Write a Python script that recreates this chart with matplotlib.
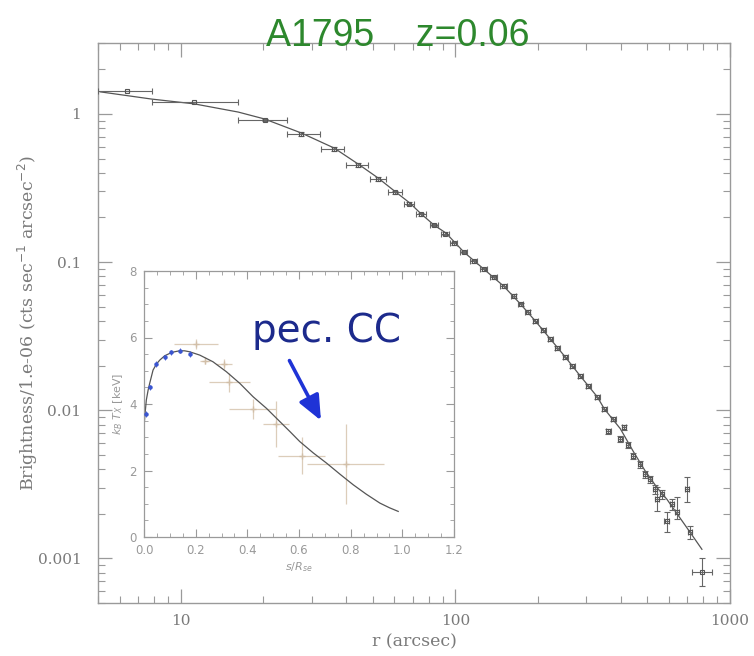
"""
A1795 brightness profile with temperature inset
"""

import matplotlib.pyplot as plt
from matplotlib.ticker import LogLocator, NullFormatter, FixedLocator, AutoMinorLocator

# main panel: brightness data points
r_pts = [6.37, 11.2, 20.2, 27.5, 36.2, 44.3, 52.3, 60.3, 67.8, 75.0, 83.6, 91.6,
         98.8, 107.4, 116.8, 126.9, 137.9, 149.9, 163.0, 172.9, 183.3, 195.9, 209.4,
         222.1, 235.6, 251.8, 266.9, 285.4, 305.1, 329.0, 349.0, 360.7, 376.0, 399.0,
         412.0, 426.0, 444.0, 471.0, 491.0, 512.0, 534.0, 543.0, 566.0, 590.0, 615.0,
         642.0, 698.0, 716.0, 791.0]
b_pts = [1.43, 1.21, 0.911, 0.732, 0.580, 0.452, 0.364, 0.297, 0.247, 0.211, 0.178,
         0.155, 0.134, 0.117, 0.1016, 0.0897, 0.0792, 0.0689, 0.0589, 0.0520, 0.0459,
         0.0399, 0.0347, 0.0302, 0.0262, 0.0228, 0.0198, 0.0170, 0.0145, 0.0123,
         0.0102, 0.00721, 0.00869, 0.00637, 0.00768, 0.00580, 0.00489, 0.00432,
         0.00370, 0.00342, 0.00292, 0.00250, 0.00271, 0.00178, 0.00232, 0.00205,
         0.00292, 0.00150, 0.000804]
r_lo = [1.37, 3.35, 4.0, 3.2, 3.7, 4.2, 3.5, 3.5, 3.0, 3.0, 3.0, 3.0, 3.0, 3.0, 3.2,
        3.4, 3.6, 3.8, 4.0, 4.0, 4.2, 4.4, 4.6, 4.8, 5.0, 5.2, 5.5, 5.8, 6.0, 6.5,
        7.0, 7.0, 7.5, 8.0, 8.0, 8.5, 9.0, 9.5, 10.0, 10.0, 10.5, 11.0, 11.0, 12.0,
        12.0, 13.0, 14.0, 14.0, 63.0]
r_hi = [1.48, 5.0, 4.1, 4.7, 3.2, 3.8, 3.5, 3.5, 3.0, 3.0, 3.0, 3.0, 3.0, 3.0, 3.2,
        3.4, 3.6, 3.8, 4.0, 4.0, 4.2, 4.4, 4.6, 4.8, 5.0, 5.2, 5.5, 5.8, 6.0, 6.5,
        7.0, 7.0, 7.5, 8.0, 8.0, 8.5, 9.0, 9.5, 10.0, 10.0, 10.5, 11.0, 11.0, 12.0,
        12.0, 13.0, 14.0, 14.0, 70.0]
b_lo = [0.0, 0.0, 0.02, 0.02, 0.015, 0.012, 0.009, 0.007, 0.006, 0.005, 0.004, 0.0035,
        0.003, 0.0027, 0.0024, 0.0021, 0.0019, 0.0017, 0.0015, 0.0013, 0.0012, 0.0011,
        0.0010, 0.0009, 0.0008, 0.0007, 0.0006, 0.0005, 0.00045, 0.0004, 0.00035,
        0.0003, 0.0003, 0.00028, 0.00028, 0.00026, 0.00024, 0.00022, 0.0002, 0.0002,
        0.0002, 0.00042, 0.0002, 0.00028, 0.0002, 0.00021, 0.00052, 0.00015, 0.000157]
b_hi = [0.0, 0.0, 0.02, 0.02, 0.015, 0.012, 0.009, 0.007, 0.006, 0.005, 0.004, 0.0035,
        0.003, 0.0027, 0.0024, 0.0021, 0.0019, 0.0017, 0.0015, 0.0013, 0.0012, 0.0011,
        0.0010, 0.0009, 0.0008, 0.0007, 0.0006, 0.0005, 0.00045, 0.0004, 0.00035,
        0.0003, 0.0003, 0.00028, 0.00028, 0.00026, 0.00024, 0.00022, 0.0002, 0.0002,
        0.0002, 0.00052, 0.0002, 0.00027, 0.0002, 0.00053, 0.00062, 0.00015, 0.000196]

# main panel: model curve
r_model = [5.1, 7.85, 11.2, 16.2, 20.2, 27.5, 36.2, 44.3, 52.3, 60.3, 68.4, 75.0,
           83.6, 92.5, 107.4, 127.0, 149.9, 172.9, 195.9, 222.1, 251.8, 285.4, 329.0,
           349.0, 399.0, 444.0, 491.0, 543.0, 590.0, 642.0, 716.0, 791.0]
b_model = [1.41, 1.26, 1.17, 1.03, 0.925, 0.744, 0.589, 0.459, 0.370, 0.300, 0.250,
           0.212, 0.178, 0.157, 0.117, 0.0897, 0.0689, 0.0520, 0.0399, 0.0302, 0.0228,
           0.0170, 0.0123, 0.0102, 0.0075, 0.0053, 0.0039, 0.0030, 0.0025, 0.0020,
           0.0015, 0.00115]

# inset: temperature model
s_model = [0.0, 0.003, 0.009, 0.016, 0.022, 0.035, 0.048, 0.061, 0.08, 0.099, 0.118,
           0.138, 0.157, 0.177, 0.216, 0.267, 0.319, 0.371, 0.422, 0.474, 0.526,
           0.565, 0.603, 0.655, 0.707, 0.76, 0.81, 0.86, 0.913, 0.95, 0.984]
t_model = [3.3, 3.62, 4.12, 4.42, 4.62, 5.02, 5.2, 5.32, 5.45, 5.52, 5.57, 5.60, 5.6,
           5.57, 5.47, 5.27, 4.97, 4.62, 4.22, 3.87, 3.47, 3.17, 2.87, 2.53, 2.22,
           1.88, 1.57, 1.29, 1.02, 0.88, 0.77]

# inset: inner (blue) temperature points
s_blue = [0.009, 0.022, 0.048, 0.08, 0.106, 0.138, 0.177]
t_blue = [3.7, 4.5, 5.2, 5.4, 5.55, 5.6, 5.5]

# inset: outer (faint) temperature points
s_pts = [0.203, 0.235, 0.31, 0.33, 0.42, 0.51, 0.61, 0.78]
t_pts = [5.8, 5.3, 5.2, 4.65, 3.85, 3.4, 2.45, 2.2]
s_err = [0.085, 0.02, 0.03, 0.08, 0.09, 0.05, 0.09, 0.15]
t_err = [0.15, 0.1, 0.15, 0.28, 0.3, 0.7, 0.55, 1.2]

GRAY = '#9a9a9a'
TXT = '#7a7a7a'
SERIF = ['DejaVu Serif']

fig = plt.figure(figsize=(7.54, 6.56), dpi=100)
ax = fig.add_axes([0.130, 0.081, 0.838, 0.853])

ax.errorbar(r_pts, b_pts, xerr=[r_lo, r_hi], yerr=[b_lo, b_hi], fmt='s', ms=3.5,
            mfc='none', mec='#555555', mew=0.8, ecolor='#666666', elinewidth=0.8,
            capsize=2.5, capthick=0.8, zorder=3)
ax.plot(r_model, b_model, c='#555555', lw=0.9, zorder=2)

ax.set_xscale('log')
ax.set_yscale('log')
ax.set_xlim(5.0, 1000)
ax.set_ylim(5e-4, 3.0)
ax.set_xticks([10, 100, 1000])
ax.set_xticklabels(['10', '100', '1000'])
ax.set_yticks([0.001, 0.01, 0.1, 1])
ax.set_yticklabels(['0.001', '0.01', '0.1', '1'])
ax.xaxis.set_minor_locator(LogLocator(base=10, subs=range(2, 10)))
ax.yaxis.set_minor_locator(LogLocator(base=10, subs=range(2, 10)))
ax.xaxis.set_minor_formatter(NullFormatter())
ax.yaxis.set_minor_formatter(NullFormatter())
ax.tick_params(which='both', direction='in', top=True, right=True, color=GRAY,
               labelcolor=TXT, labelsize=11)
ax.tick_params(which='major', length=10, width=0.9)
ax.tick_params(which='minor', length=5, width=0.8)
ax.tick_params(axis='y', which='major', pad=12)
ax.tick_params(axis='x', which='major', pad=8)
for lab in ax.get_xticklabels() + ax.get_yticklabels():
    lab.set_family(SERIF)
for sp in ax.spines.values():
    sp.set_color(GRAY)
    sp.set_linewidth(1.0)

ax.set_xlabel('r (arcsec)', family=SERIF, color=TXT, fontsize=12.5, labelpad=4)
ax.set_ylabel(r'Brightness/1.e-06 (cts sec$^{-1}$ arcsec$^{-2}$)', family=SERIF,
              color=TXT, fontsize=12.5)
ax.yaxis.set_label_coords(-0.092, 0.5)

fig.text(0.528, 0.945, 'A1795    z=0.06', ha='center', va='center', color='#2d882d',
         fontsize=27, family='Liberation Sans')

# inset
inax = fig.add_axes([144 / 754, 1 - 537 / 656, 310 / 754, 266 / 656])
inax.plot(s_model, t_model, c='#555555', lw=0.9, zorder=2)
inax.errorbar(s_pts, t_pts, xerr=s_err, yerr=t_err, fmt='+', ms=5, color='#d2bfa8',
              ecolor='#dccdba', elinewidth=0.9, zorder=1)
inax.errorbar(s_blue, t_blue, yerr=0.08, fmt='o', ms=2.2, color='#3a55d0',
              ecolor='#3a55d0', elinewidth=0.6, zorder=3)
inax.set_xlim(0, 1.2)
inax.set_ylim(0, 8)
inax.xaxis.set_major_locator(FixedLocator([0, 0.2, 0.4, 0.6, 0.8, 1.0, 1.2]))
inax.yaxis.set_major_locator(FixedLocator([0, 2, 4, 6, 8]))
inax.set_xticklabels(['0.0', '0.2', '0.4', '0.6', '0.8', '1.0', '1.2'])
inax.set_yticklabels(['0', '2', '4', '6', '8'])
inax.xaxis.set_minor_locator(AutoMinorLocator(4))
inax.yaxis.set_minor_locator(AutoMinorLocator(4))
inax.tick_params(which='both', direction='in', top=True, right=True, color=GRAY,
                 labelcolor='#999999', labelsize=8.5)
inax.tick_params(which='major', length=6, width=0.8)
inax.tick_params(which='minor', length=3, width=0.6)
inax.tick_params(axis='x', which='major', pad=5)
inax.tick_params(axis='y', which='major', pad=5)
for sp in inax.spines.values():
    sp.set_color(GRAY)
    sp.set_linewidth(0.9)
inax.set_xlabel(r'$s/R_{se}$', color='#999999', fontsize=8, labelpad=2)
inax.set_ylabel(r'$k_B\ T_{X}$ [keV]', color='#999999', fontsize=8, labelpad=3)

inax.text(0.42, 5.85, 'pec. CC', color='#1c2a8c', fontsize=28, family='DejaVu Sans',
          ha='left', va='baseline', zorder=5)
inax.annotate('', xy=(0.69, 3.43), xytext=(0.558, 5.38),
              arrowprops=dict(arrowstyle='-|>,head_length=1.5,head_width=0.65',
                              color='#1f33d6', lw=2.6), zorder=5)

fig.savefig('out.png', dpi=100)
